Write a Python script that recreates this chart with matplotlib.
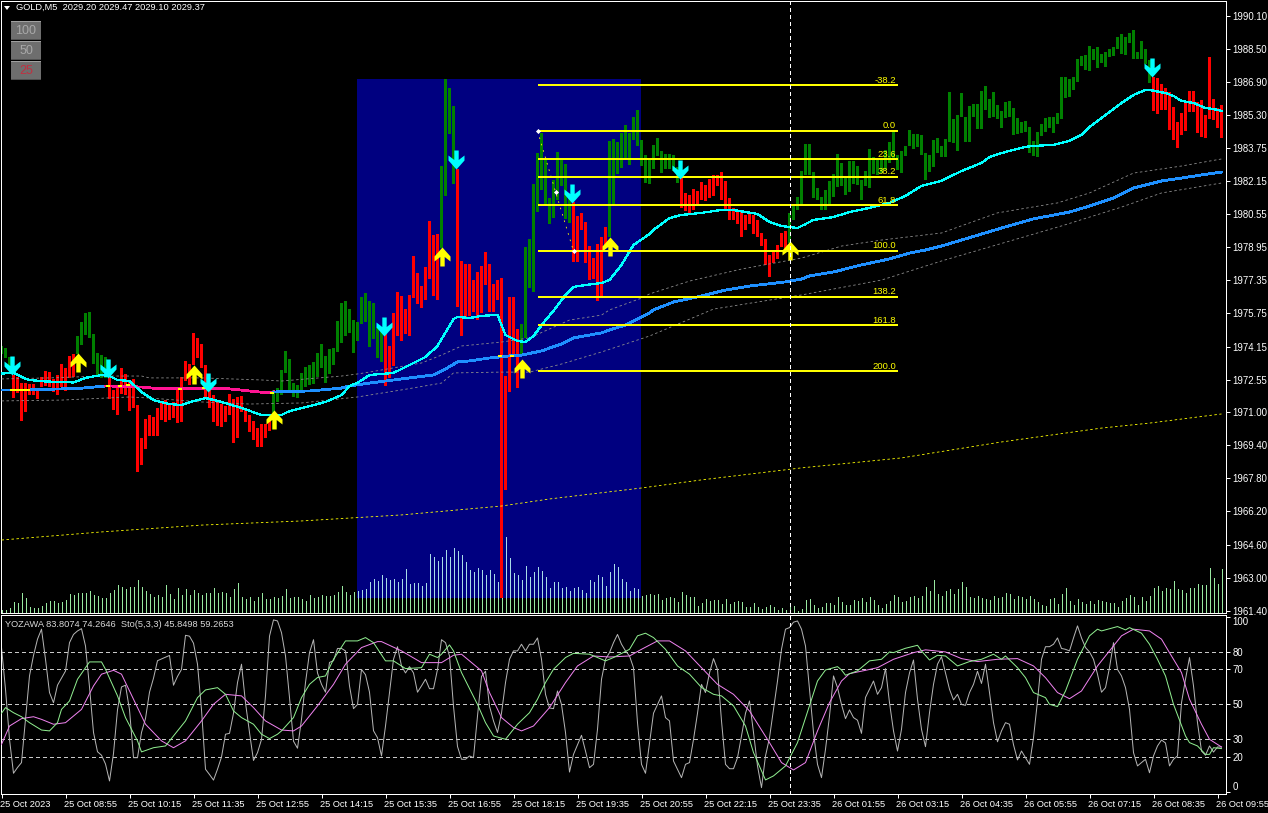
"""Recreate the MT4 GOLD,M5 screenshot: price pane with indicators, stochastic pane below."""

import numpy as np
import matplotlib
matplotlib.use("Agg")
import matplotlib.pyplot as plt
from matplotlib.path import Path
from matplotlib.patches import Rectangle, Polygon
from matplotlib.transforms import ScaledTranslation

W, H = 1268, 813
FONT = "Liberation Sans"

# ---------------------------------------------------------------------------
# Candle bodies, one per bar (5 minute bars, prices)
# ---------------------------------------------------------------------------
bar_top = [
    1974.18,1974.08,1973.65,1972.78,1972.68,1972.39,1972.39,1972.35,1972.35,1972.15,
    1972.68,1972.97,1972.92,1972.59,1972.78,1973.31,1973.12,1973.70,1973.79,1974.66,
    1975.34,1975.77,1975.82,1974.76,1973.84,1973.74,1973.65,1972.68,1972.06,1972.25,
    1973.12,1972.83,1972.54,1972.59,1971.33,1969.74,1970.66,1970.85,1970.75,1971.19,
    1971.43,1971.57,1971.43,1971.48,1972.20,1972.68,1973.46,1973.31,1974.81,1974.57,
    1974.28,1973.26,1972.06,1971.81,1971.48,1971.38,1971.28,1971.86,1971.62,1971.72,
    1971.77,1971.14,1970.85,1970.56,1970.22,1970.42,1970.42,1970.61,1972.06,1972.15,
    1973.02,1973.94,1973.55,1972.39,1972.30,1972.88,1973.17,1973.26,1973.41,1973.84,
    1974.28,1973.70,1974.03,1974.08,1975.39,1976.25,1976.35,1975.96,1975.43,1975.34,
    1976.54,1976.73,1976.35,1976.25,1975.10,1974.95,1974.81,1974.18,1975.77,1976.78,
    1976.59,1975.96,1976.64,1978.52,1977.70,1977.07,1977.99,1980.21,1979.53,1979.58,
    1982.86,1987.06,1986.62,1985.76,1982.72,1978.28,1978.14,1978.14,1977.36,1977.75,
    1978.04,1978.71,1978.14,1977.17,1977.36,1977.46,1972.73,1976.54,1976.54,1975.00,
    1975.24,1978.96,1979.34,1982.00,1983.49,1984.45,1983.15,1981.32,1982.19,1983.54,
    1983.15,1982.96,1981.37,1981.13,1980.45,1980.60,1980.16,1979.00,1978.43,1979.10,
    1979.44,1979.92,1984.07,1984.16,1984.02,1984.45,1984.84,1984.45,1985.23,1985.56,
    1984.12,1983.39,1983.15,1983.88,1984.21,1983.59,1983.44,1983.44,1983.39,1982.81,
    1982.28,1981.56,1981.46,1981.75,1981.66,1982.09,1981.95,1982.24,1982.43,1982.43,
    1982.57,1982.14,1981.32,1980.84,1980.74,1980.74,1980.50,1980.55,1980.50,1980.26,
    1979.63,1979.34,1978.57,1978.76,1979.05,1979.63,1979.73,1980.60,1980.98,1981.37,
    1982.62,1983.92,1983.92,1982.57,1981.80,1981.37,1981.70,1982.14,1982.48,1983.44,
    1983.01,1982.38,1983.10,1983.10,1982.86,1982.19,1982.62,1983.68,1983.30,1983.15,
    1983.15,1983.63,1984.02,1984.50,1983.39,1983.59,1983.83,1984.60,1984.41,1984.41,
    1984.36,1983.49,1983.39,1984.12,1984.21,1983.83,1984.16,1986.43,1985.13,1985.32,
    1986.38,1985.23,1985.76,1985.85,1985.85,1986.48,1986.72,1986.09,1986.43,1985.80,
    1985.52,1985.95,1986.00,1985.66,1985.18,1984.98,1985.03,1984.74,1984.07,1984.50,
    1984.89,1985.18,1985.23,1985.23,1985.42,1987.16,1987.16,1987.06,1987.16,1988.02,
    1988.17,1988.22,1988.65,1988.51,1988.60,1988.26,1988.36,1988.51,1988.60,1989.09,
    1989.23,1989.09,1989.28,1989.42,1988.36,1988.89,1988.51,1987.98,1987.16,1987.11,
    1986.82,1986.62,1986.43,1985.71,1984.98,1985.42,1985.90,1986.48,1986.48,1985.95,
    1986.05,1985.32,1988.12,1986.09,1985.66,1985.80,
]
bar_bot = [
    1973.79,1973.60,1973.17,1971.67,1971.91,1970.56,1971.00,1971.81,1971.81,1971.62,
    1972.20,1972.25,1972.20,1971.96,1971.81,1972.20,1972.01,1972.64,1972.68,1973.79,
    1974.23,1974.71,1974.57,1973.31,1972.73,1972.64,1972.64,1971.62,1971.09,1970.85,
    1971.86,1971.81,1971.04,1971.19,1968.10,1968.44,1969.21,1969.84,1969.84,1969.84,
    1970.61,1970.51,1970.61,1970.71,1970.46,1970.51,1972.49,1972.30,1973.26,1973.60,
    1973.12,1971.72,1971.19,1970.51,1970.32,1970.27,1970.51,1970.85,1969.50,1969.74,
    1971.00,1970.51,1970.03,1969.64,1969.31,1969.31,1969.74,1970.08,1970.61,1971.48,
    1971.81,1972.88,1972.06,1971.72,1971.67,1971.96,1972.20,1972.30,1972.35,1972.68,
    1973.12,1972.39,1972.83,1973.26,1973.89,1974.32,1974.66,1974.81,1973.84,1974.42,
    1975.24,1975.34,1974.13,1974.52,1973.60,1973.41,1972.25,1972.64,1973.21,1974.66,
    1974.42,1974.76,1974.66,1976.49,1976.20,1976.01,1976.40,1977.41,1976.59,1976.40,
    1978.91,1981.42,1984.41,1982.00,1976.06,1974.66,1975.58,1975.63,1975.82,1975.43,
    1975.77,1977.12,1975.82,1975.82,1976.40,1962.02,1967.23,1971.96,1973.74,1972.15,
    1973.70,1974.57,1976.98,1976.78,1980.64,1981.70,1980.98,1980.06,1980.35,1981.22,
    1981.90,1980.31,1980.11,1978.23,1978.23,1979.78,1978.18,1977.36,1977.41,1976.35,
    1976.54,1979.05,1979.44,1981.03,1982.48,1982.77,1983.15,1982.91,1984.12,1983.83,
    1982.86,1982.04,1981.99,1982.72,1983.34,1982.52,1982.72,1982.72,1982.62,1982.04,
    1980.84,1980.69,1980.60,1980.74,1980.98,1981.22,1981.17,1981.32,1981.42,1981.90,
    1981.22,1980.74,1980.26,1980.26,1980.06,1979.44,1979.78,1980.06,1979.58,1979.44,
    1979.00,1978.09,1977.51,1978.18,1978.38,1978.96,1978.81,1979.15,1980.26,1980.74,
    1980.98,1982.43,1982.43,1981.32,1981.22,1980.74,1980.74,1980.98,1981.37,1981.85,
    1981.90,1981.46,1981.61,1982.00,1981.95,1981.22,1981.90,1981.80,1982.48,1982.43,
    1982.52,1982.67,1983.01,1983.15,1982.67,1982.52,1983.34,1983.83,1983.68,1983.78,
    1983.39,1982.19,1982.57,1982.81,1983.49,1983.30,1983.30,1984.02,1983.97,1983.59,
    1985.23,1984.02,1984.02,1985.23,1984.65,1984.65,1985.56,1985.18,1985.23,1985.13,
    1984.70,1985.18,1985.23,1984.36,1984.41,1984.45,1984.50,1983.49,1983.34,1983.30,
    1984.31,1984.50,1984.70,1984.45,1984.89,1985.13,1986.14,1986.19,1986.53,1986.91,
    1987.69,1987.49,1987.45,1987.98,1987.59,1987.83,1987.64,1988.12,1988.17,1988.51,
    1988.26,1988.22,1988.80,1988.02,1988.02,1988.02,1987.78,1986.87,1985.52,1985.37,
    1985.56,1985.56,1984.60,1984.12,1983.73,1984.36,1984.55,1985.47,1985.47,1984.45,
    1984.26,1984.21,1985.13,1985.08,1984.70,1984.21,
]
# first and last bar of every red stretch, everything else is green
red_runs = [(3, 18), (27, 67), (96, 109), (114, 129), (143, 151), (170, 196), (288, 305)]

volume = [
    33,33,53,113,103,203,153,63,53,53,
    73,103,123,123,103,113,133,193,183,203,
    203,203,223,183,173,153,153,203,233,283,
    263,243,263,263,333,263,223,193,163,183,
    163,283,193,143,253,183,243,183,233,203,
    183,203,203,253,203,213,203,163,243,303,
    163,143,163,123,163,203,143,143,163,153,
    173,243,153,163,163,143,123,183,153,163,
    183,173,173,183,213,273,213,183,213,223,
    233,243,313,343,323,383,353,333,343,313,
    343,443,293,303,303,273,303,593,563,523,
    563,633,563,653,623,583,513,433,413,453,
    433,383,433,393,313,563,763,553,403,383,
    333,473,363,413,463,423,363,253,313,313,
    253,263,223,253,263,233,203,333,313,383,
    363,273,413,493,463,343,313,223,253,243,
    173,183,193,183,193,133,153,163,153,113,
    213,183,163,163,73,103,143,123,133,133,
    93,143,93,113,123,113,63,63,103,63,
    43,63,83,63,33,53,33,73,73,23,
    43,133,143,83,53,63,103,103,83,163,
    113,83,83,133,123,153,113,163,133,83,
    53,93,123,183,163,113,123,163,173,153,
    173,263,223,333,193,173,223,243,193,243,
    313,263,163,153,173,153,143,133,173,153,
    163,203,193,143,173,163,143,173,143,113,
    83,73,143,153,93,193,253,123,83,143,
    113,93,123,93,133,123,113,103,103,63,
    123,153,183,163,83,163,123,173,253,273,
    223,253,243,323,243,233,203,253,253,293,
    283,283,453,353,293,443,
]

# ---------------------------------------------------------------------------
# Moving averages and bands: bar index / price pairs
# ---------------------------------------------------------------------------
fast_idx = [0,3,6,7,11,18,21,25,27,29,32,35,38,42,45,48,51,55,60,65,70,72,77,81,85,87,89,92,98,102,
            106,109,113,114,117,120,124,125,126,129,131,133,136,138,141,143,146,150,152,155,158,162,163,167,170,175,180,183,186,189,
            192,195,199,201,203,208,212,217,222,226,230,235,236,240,245,247,251,256,258,263,267,270,272,276,280,283,286,287,291,293,
            295,298,301,303,305]
fast_val = [1972.85,1972.88,1972.59,1972.54,1972.47,1972.42,1972.64,1972.78,1972.73,1972.54,1972.49,1971.96,1971.57,1971.38,1971.33,1971.52,1971.67,1971.48,1971.19,1970.85,1970.85,1971.04,1971.28,1971.48,1971.81,1972.25,1972.40,1972.78,1972.88,1973.26,
            1973.65,1974.18,1975.48,1975.58,1975.53,1975.63,1975.68,1975.19,1974.71,1974.42,1974.37,1974.66,1975.43,1975.87,1976.64,1977.03,1977.12,1977.22,1977.36,1978.09,1979.05,1979.58,1979.78,1980.35,1980.50,1980.60,1980.74,1980.74,1980.64,1980.55,
            1980.16,1979.97,1979.87,1980.06,1980.26,1980.40,1980.64,1980.84,1981.08,1981.42,1981.90,1982.14,1982.24,1982.62,1983.01,1983.30,1983.54,1983.78,1983.83,1983.88,1984.07,1984.36,1984.74,1985.32,1985.90,1986.29,1986.53,1986.53,1986.38,1986.24,
            1986.00,1985.90,1985.66,1985.61,1985.52]

slow_a_idx = [0,7,15,18,26]
slow_a_val = [1972.06,1972.06,1972.11,1972.11,1972.25]
pink_idx = [26,27,35,40,45,51,57,62,67,68]
pink_val = [1972.25,1972.25,1972.20,1972.11,1972.11,1972.15,1972.11,1972.01,1971.91,1971.96]
slow_b_idx = [68,77,85,87,92,102,108,111,114,117,122,127,130,135,140,143,150,152,156,162,163,168,175,181,187,196,200,202,208,215,
              222,227,231,235,240,250,258,267,272,278,283,290,295,300,305]
slow_b_val = [1971.96,1972.01,1972.15,1972.25,1972.39,1972.64,1972.78,1973.07,1973.41,1973.46,1973.60,1973.70,1973.74,1973.94,1974.28,1974.57,1974.81,1974.95,1975.19,1975.77,1975.92,1976.30,1976.59,1976.88,1977.07,1977.27,1977.41,1977.56,1977.75,1978.09,
              1978.38,1978.66,1978.81,1979.00,1979.29,1979.87,1980.31,1980.64,1980.93,1981.32,1981.80,1982.14,1982.28,1982.43,1982.57]
# short yellow dashes where the slow average changes direction
flat_spots = [(2, 7, 1972.06), (26, 27, 1972.25), (29, 30, 1972.25), (31, 32, 1972.30), (44, 45, 1972.11),
              (50, 51, 1972.15), (67, 68, 1971.91), (124, 125, 1973.70), (127, 128, 1973.70)]

upper_idx = [0,12,25,35,37,50,65,70,85,89,92,105,110,115,125,132,142,150,152,160,162,172,185,200,210,220,235,249,264,272,283,295,305]
upper_val = [1972.59,1972.64,1972.73,1972.73,1972.64,1972.64,1972.54,1972.49,1972.73,1972.83,1972.92,1973.36,1973.74,1974.18,1974.37,1974.57,1975.43,1975.67,1975.92,1976.49,1976.69,1977.31,1977.89,1978.42,1979.00,1979.29,1979.63,1980.60,1981.08,1981.56,1982.52,1982.86,1983.20]
lower_idx = [0,15,32,37,50,62,75,89,100,110,113,125,132,140,150,162,178,200,220,235,265,280,290,305]
lower_val = [1971.53,1971.57,1971.72,1971.67,1971.48,1971.38,1971.43,1971.72,1972.06,1972.39,1972.88,1972.92,1972.92,1973.31,1973.89,1974.66,1975.96,1976.64,1977.36,1978.28,1979.97,1980.88,1981.56,1982.04]
long_idx = [0,25,50,75,100,125,137,160,175,200,225,250,275,287,305]
long_val = [1964.82,1965.21,1965.54,1965.74,1966.03,1966.46,1966.80,1967.33,1967.72,1968.30,1968.78,1969.55,1970.22,1970.46,1970.90]

# ---------------------------------------------------------------------------
# Objects on the chart
# ---------------------------------------------------------------------------
session_start, session_end = 88.9, 159.9
session_top, session_bot = 1987.06, 1962.02

fib_start, fib_end = 134, 224
fib_high, fib_low = 1984.55, 1978.76
fib_levels = [-38.2, 0.0, 23.6, 38.2, 61.8, 100.0, 138.2, 161.8, 200.0]
swing_idx = [134, 138.5, 143]
swing_val = [1984.55, 1981.63, 1978.76]

sell_idx = [3, 27, 52, 96, 114, 143, 170, 288]
sell_tip = [1972.78, 1972.64, 1971.96, 1974.66, 1982.72, 1981.08, 1982.24, 1987.16]
buy_idx = [19, 48, 68, 110, 130, 152, 197]
buy_tip = [1973.84, 1973.26, 1971.09, 1978.96, 1973.55, 1979.44, 1979.25]

cursor_idx = 197

price_ticks = [1990.10, 1988.50, 1986.90, 1985.30, 1983.75, 1982.15, 1980.55, 1978.95, 1977.35, 1975.75,
               1974.15, 1972.55, 1971.00, 1969.40, 1967.80, 1966.20, 1964.60, 1963.00, 1961.40]
time_labels = ["25 Oct 2023", "25 Oct 08:55", "25 Oct 10:15", "25 Oct 11:35", "25 Oct 12:55", "25 Oct 14:15",
               "25 Oct 15:35", "25 Oct 16:55", "25 Oct 18:15", "25 Oct 19:35", "25 Oct 20:55", "25 Oct 22:15",
               "25 Oct 23:35", "26 Oct 01:55", "26 Oct 03:15", "26 Oct 04:35", "26 Oct 05:55", "26 Oct 07:15",
               "26 Oct 08:35", "26 Oct 09:55"]

# ---------------------------------------------------------------------------
# Stochastic pane
# ---------------------------------------------------------------------------
stoch_main = [
    82.5,58.7,30.1,10.7,14,16.8,41.5,66.3,78,87.3,
    93,75.8,56.8,51,61,65,69.1,85.3,90,92,
    93.3,83.4,60,34,23,21,16,6.3,22,47,
    60,61,47,19.6,19.6,34,42,57,65,75,
    76,77,78,61,66,70,89.5,89,85,73,
    47,13,10,6.8,13,20,33,33.5,45,62.5,
    73,51,34,18,22.5,30,55,89,98.3,97.7,
    91,77.7,54,29,25,41.5,62.5,79.6,87,68,
    61.5,57,74,75,82,82,80.6,60.6,47.6,50,
    70,67,57,35,31,20.6,37.7,57,75.8,83,
    72,68,71.6,68,57,60.6,64.4,59,59,70,
    87,85.3,77.7,49,26,18.7,18.7,20.6,19.6,43.4,
    66,69,49,40.6,34,45,62.5,75.8,80.6,80.6,
    84.4,80.6,84.4,84.4,88,75.8,55.8,48,47.6,57.7,
    50,34,11.4,21.5,27,32.4,23.4,13.9,15.8,35.8,
    64.4,75.8,79.6,85.3,90,84.4,80.6,77.7,71,39.6,
    15.8,10.7,28,45,50,54.9,42.5,40.6,17.7,13,
    8.2,15.8,16.8,30,45,61.5,56.8,68,76.2,70,
    40.6,15.8,13.3,13.3,19.6,32,45,52,34,14.9,
    2.5,20.6,31,47,63.4,81.5,93,93.9,97,97.7,
    93,83.4,58.7,34,15.8,8.2,24.4,43.4,66.3,59.6,
    50,41.9,46.9,42.5,41,33.5,54,58.7,63.4,55.8,
    59.6,70.5,51,34.9,23.4,35.8,56.8,68,75.4,53,
    35.8,25.9,45.3,61.5,73,77.3,68,58.7,52.6,55.8,
    50,49.5,56.8,61.5,69,62,73,56.8,39.6,28.7,
    34.9,39.6,38.7,27,18.3,23.4,19.6,15.8,31,52,
    75.8,83,83,84.4,88,82,81.5,80.6,88,94.9,
    88,82.5,80,75.8,67.3,57,59.6,71,85.3,70,
    66.3,59.6,47.2,22.5,14.9,16.8,18.7,11,20.6,26.3,
    29.7,28,14.9,18.7,20.6,51,64.4,76.8,60.6,39.6,
    23.4,21,26.3,22.8,25.7,25.7,
]

green_idx = [0,1,3,5,7,10,12,14,15,17,19,22,25,26,29,31,34,35,38,41,43,46,49,51,54,56,58,60,63,65,
             67,69,70,73,75,77,79,81,83,86,89,91,93,96,98,101,105,107,109,110,112,113,115,119,121,123,126,129,132,134,
             136,138,141,143,147,149,151,153,157,159,161,163,166,169,172,175,178,180,183,186,188,191,193,196,199,202,204,206,209,210,
             211,214,217,220,222,223,226,229,230,232,234,236,239,242,245,248,250,251,254,256,258,261,262,264,266,269,272,274,275,279,
             281,282,285,287,289,291,293,296,297,299,301,302,303,305]
green_val = [45,48.2,45.3,43,39.6,35.4,34.9,39.6,47.2,52,64.4,74.3,74.3,70.1,54.9,42.5,29.2,22.9,25.3,26.3,32,40.6,53.9,58.3,59.6,55.8,46.3,42.5,38.7,33,
             30.5,33,34.9,42.5,53.9,61.5,65.4,66.3,75.8,86.3,86.3,88.2,85.3,74.9,74.9,70.5,71,78.7,76.8,78.7,84,80.6,68.2,50,39.6,32,30.1,38.7,45.3,53,
             62.5,70.1,76.8,79.2,78.7,76.8,74.9,76.8,81.5,89.2,90.7,88.2,81.5,72,67.3,59.7,55.8,54.9,49.2,37.7,22.5,6.9,9.2,14.9,28.2,49.2,63.4,69.7,71.6,69.7,
             66.7,69.2,74.9,75.8,80,79.6,82.1,83.8,80.6,75.4,78.1,77.7,72,74.5,75.8,78.7,75.8,77.7,71,65.3,56.8,53.9,50.1,48.8,57.7,75.8,89.2,93,92,94.5,
             92.6,93.9,90.7,84.4,75.8,66.3,50.1,32,28.2,26.3,21.5,21.5,25.3,24.8]

violet_idx = [0,2,5,8,10,13,16,20,23,25,28,30,33,36,40,43,46,50,53,56,60,63,66,70,73,75,79,83,86,90,94,95,100,105,
              110,113,115,117,120,122,125,128,130,133,137,141,144,148,152,157,160,164,167,171,175,179,183,187,192,195,198,201,204,207,210,
              212,216,219,223,228,231,236,240,244,249,254,258,261,264,267,270,274,277,280,283,287,290,292,295,297,300,302,305]
violet_val = [27.2,37.7,41.9,43,41.5,38.7,39.6,47.2,60.6,67.3,69.5,67.3,53,38.7,29.2,25.3,29.2,40.6,50.1,55.8,54.9,48.2,40.6,35.4,34.9,37.7,49.2,61.5,73,82.5,85.9,85.9,80.6,73.9,
              73.9,78.1,78.7,74.9,69.2,56.8,42.5,36.8,34.9,37.7,48.2,62.5,72,77.7,77.1,77.7,81.5,86.3,86.3,80.6,71,61.5,55.8,46.3,28.2,16.8,12.6,16.8,34.9,51,63.4,
              67.6,69.5,71,75.8,79.6,81.2,80,76.2,74.5,75.8,76.2,72,65.3,56.8,53.3,57.7,72,80.6,89.2,93,92,87.3,79.6,68.2,53,38.7,30.1,25.7]

stoch_levels = [80, 70, 50, 30, 20]
stoch_ticks = [100, 80, 70, 50, 30, 20, 0]

# ---------------------------------------------------------------------------
# Helpers
# ---------------------------------------------------------------------------

def fx(px):
    return px / W


def fy(px):
    return 1 - px / H


def arrow_path(up):
    """Arrow marker with its tip at the origin, 19 units long, 16 wide."""
    pts = np.array([(0, 0), (8, -9), (8, -14), (2.2, -9.5), (2.2, -19), (-2.2, -19), (-2.2, -9.5), (-8, -14), (-8, -9), (0, 0)], dtype=float)
    if not up:
        pts[:, 1] *= -1
    return Path(pts, closed=True)


# ---------------------------------------------------------------------------
# Plot
# ---------------------------------------------------------------------------
plt.rcParams["font.family"] = [FONT, "DejaVu Sans"]
plt.rcParams["font.size"] = 6.7

fig = plt.figure(figsize=(W / 100, H / 100), dpi=100, facecolor="black")
ax = fig.add_axes([fx(1), fy(613), 1225 / W, 612 / H], facecolor="black")
osc = fig.add_axes([fx(1), fy(794), 1225 / W, 179 / H], facecolor="black")

n_bars = len(bar_top)
x = np.arange(n_bars)
top = np.array(bar_top)
bot = np.array(bar_bot)
vol = np.array(volume, dtype=float)

ymin, ymax = 1961.30, 1990.82
price_per_tick = 0.004824      # volume columns share the price pane, 1 px = 10 ticks

ax.add_patch(Rectangle((session_start, session_bot), session_end - session_start, session_top - session_bot,
                       facecolor="#000080", edgecolor="none", zorder=0))

# volume
ax.vlines(x, ymin, ymin + vol * price_per_tick, color="#98E8A0", linewidth=0.72, antialiased=False, zorder=1)
in_session = (x > session_start) & (x < session_end) & (ymin + vol * price_per_tick > session_bot)
ax.vlines(x[in_session], session_bot, ymin + vol[in_session] * price_per_tick, color="#A8DCE8",
          linewidth=0.72, antialiased=False, zorder=1.1)

# candles
colors = ["#008000"] * n_bars
for first, last in red_runs:
    for i in range(first, last + 1):
        colors[i] = "#FF0000"
ax.bar(x, top - bot, bottom=bot, width=0.75, color=colors, linewidth=0, antialiased=False, zorder=2)

# averages and bands, the dotted ones stay antialiased so they come out one pixel thin
dash = (0, (3, 3))
ax.plot(long_idx, long_val, color="#FFFF00", lw=0.6, ls=dash, zorder=3)
ax.plot(upper_idx, upper_val, color="#8C8C8C", lw=0.6, ls=dash, zorder=3)
ax.plot(lower_idx, lower_val, color="#8C8C8C", lw=0.6, ls=dash, zorder=3)
ax.plot(slow_a_idx, slow_a_val, color="#1E90FF", lw=1.3, antialiased=False, zorder=4)
ax.plot(pink_idx, pink_val, color="#FF1493", lw=1.3, antialiased=False, zorder=4)
ax.plot(slow_b_idx, slow_b_val, color="#1E90FF", lw=1.3, antialiased=False, zorder=4)
for start, end, val in flat_spots:
    ax.plot([start, end], [val, val], color="#FFFF00", lw=1.3, antialiased=False, solid_capstyle="butt", zorder=4.5)
ax.plot(fast_idx, fast_val, color="#00FFFF", lw=0.9, antialiased=False, zorder=5)

# fibonacci retracement
for level in fib_levels:
    price = fib_high - level / 100 * (fib_high - fib_low)
    ax.plot([fib_start, fib_end], [price, price], color="#FFFF00", lw=1.44, antialiased=False,
            solid_capstyle="butt", zorder=6)
    ax.annotate(f"{level:.1f}", xy=(fib_end, price), xytext=(-1, 0.4), textcoords="offset points",
                ha="right", va="bottom", color="#FFFF00", fontsize=6.8, zorder=7)
ax.plot(swing_idx, swing_val, color="#FFFF00", lw=0.6, ls=(0, (2, 6)), zorder=6)
ax.plot(swing_idx, swing_val, ls="none", marker="D", ms=2.6, mfc="white", mec="white", mew=0, zorder=6.5)

# arrows, marker path is normalised to its largest coordinate: size = 2 x 19 px
arrow_ms = 2 * 19 * 72 / 100
ax.plot(np.array(sell_idx) - 0.45, sell_tip, ls="none", marker=arrow_path(False), ms=arrow_ms,
        mfc="#00FFFF", mec="none", zorder=8)
ax.plot(buy_idx, buy_tip, ls="none", marker=arrow_path(True), ms=arrow_ms,
        mfc="#FFFF00", mec="none", zorder=8)

ax.axvline(cursor_idx, color="white", lw=0.72, ls=dash, antialiased=False, zorder=9)

ax.set_xlim(-0.125, 306.125)
ax.set_ylim(ymin, ymax)
ax.set_xticks([])
ax.yaxis.tick_right()
ax.set_yticks(price_ticks)
ax.set_yticklabels([f"{p:.2f}" for p in price_ticks])
ax.tick_params(axis="y", colors="white", length=3, width=0.72, pad=1.5, labelsize=6.9)

# stochastic pane
for level in stoch_levels:
    osc.axhline(level, color="#C8C8C8", lw=0.72, ls=dash, antialiased=False, zorder=1)
osc.plot(x, stoch_main, color="#B4B4B4", lw=0.72, zorder=2)
osc.plot(violet_idx, violet_val, color="#EE82EE", lw=0.72, zorder=3)
osc.plot(green_idx, green_val, color="#90EE90", lw=0.72, zorder=3)
osc.axvline(cursor_idx, color="white", lw=0.72, ls=dash, antialiased=False, zorder=4)

osc.set_xlim(-0.125, 306.125)
osc.set_ylim(-1.14, 101.1)
osc.yaxis.tick_right()
osc.set_yticks(stoch_ticks)
osc.set_yticklabels([str(t) for t in stoch_ticks])
osc.tick_params(axis="y", colors="white", length=3, width=0.72, pad=1.5, labelsize=6.9)
for tick in osc.get_yticklabels():
    if tick.get_text() == "100":
        tick.set_va("top")
    elif tick.get_text() == "0":
        tick.set_va("bottom")

osc.set_xticks(np.arange(len(time_labels)) * 16)
osc.set_xticklabels(time_labels, ha="left")
osc.tick_params(axis="x", colors="white", length=3, width=0.72, pad=1.5, labelsize=6.7)
nudge = ScaledTranslation(-1.5 / 100, 0, fig.dpi_scale_trans)
for tick in osc.xaxis.get_major_ticks():
    tick.label1.set_transform(tick.label1.get_transform() + nudge)

for a in (ax, osc):
    for spine in a.spines.values():
        spine.set_color("white")
        spine.set_linewidth(0.72)

# header texts
fig.add_artist(Polygon([(fx(4), fy(6)), (fx(10), fy(6)), (fx(7), fy(10))], closed=True, facecolor="white",
                       edgecolor="none", transform=fig.transFigure))
fig.text(fx(16), fy(7.5), "GOLD,M5  2029.20 2029.47 2029.10 2029.37", color="white", fontsize=6.7, va="center", ha="left")
osc.annotate("YOZAWA 83.8074 74.2646  Sto(5,3,3) 45.8498 59.2653", xy=(0, 1), xycoords="axes fraction",
             xytext=(4, -9), textcoords="offset pixels", color="#D8D8D8", fontsize=6.7, va="center", ha="left", zorder=6)

# the three grey zoom buttons
for label, top_px, text_color in (("100", 21, "#A8A8A8"), ("50", 41, "#A8A8A8"), ("25", 61, "#C03040")):
    fig.add_artist(Rectangle((fx(11), fy(top_px + 19)), 30 / W, 19 / H, facecolor="#6E6E6E", edgecolor="none",
                             transform=fig.transFigure))
    fig.add_artist(Rectangle((fx(11), fy(top_px + 1)), 30 / W, 1 / H, facecolor="#A0A0A0", edgecolor="none",
                             transform=fig.transFigure))
    fig.add_artist(Rectangle((fx(11), fy(top_px + 19)), 30 / W, 1 / H, facecolor="#505050", edgecolor="none",
                             transform=fig.transFigure))
    fig.text(fx(26), fy(top_px + 9.5), label, color=text_color, fontsize=9, ha="center", va="center")

fig.savefig("out.png", dpi=100, facecolor="black")
